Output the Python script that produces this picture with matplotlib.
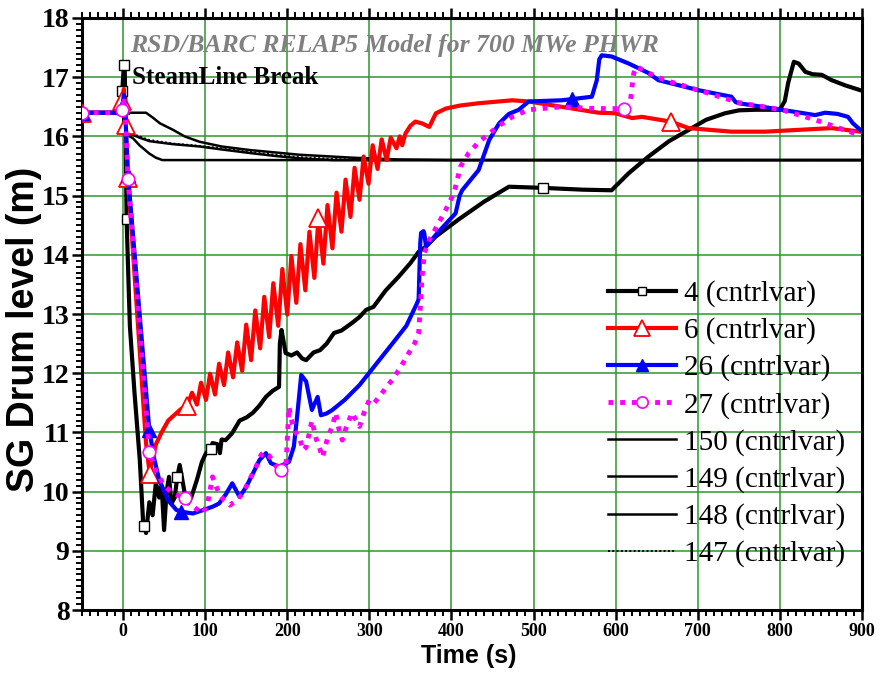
import numpy as np
import matplotlib
matplotlib.use("Agg")
import matplotlib.pyplot as plt
from matplotlib.ticker import MultipleLocator

# ---- data: SG drum level (m) vs time (s) ----
t4 = [-50, -2, -1, 1, 2, 3, 4.3, 8.3, 14, 20.4, 24.5, 26, 28, 32, 36, 40, 44, 47, 50, 53, 56, 59,
      63, 66, 69, 75, 79, 83, 90, 96, 101, 107, 109, 115, 118, 120, 125, 133, 142, 150, 158, 166,
      174, 182, 190, 191, 193, 196, 198, 205, 212, 218, 223, 232, 240, 248, 257, 266, 279, 288,
      296, 305, 320, 335, 350, 360, 369, 381, 409, 440, 470, 512, 560, 595, 616, 640, 665, 689,
      710, 733, 750, 770, 800, 806, 810, 817, 823, 831, 840, 851, 863, 880, 898]
v4 = [16.4, 16.4, 16.76, 17.2, 17.15, 16.4, 14.6, 12.8, 11.66, 10.53, 9.47, 9.42, 9.3, 9.82, 9.6,
      10.15, 9.9, 10.1, 9.35, 10.0, 10.25, 9.8, 9.9, 10.25, 10.45, 9.98, 9.8, 9.9, 10.2, 10.5,
      10.65, 10.72, 10.82, 10.8, 10.65, 10.88, 10.87, 10.99, 11.2, 11.25, 11.33, 11.45, 11.6,
      11.7, 11.77, 12.5, 12.73, 12.5, 12.34, 12.3, 12.35, 12.25, 12.22, 12.35, 12.39, 12.5, 12.68,
      12.72, 12.85, 12.95, 13.07, 13.12, 13.4, 13.62, 13.86, 14.05, 14.14, 14.31, 14.6, 14.9,
      15.15, 15.13, 15.1, 15.09, 15.38, 15.66, 15.92, 16.11, 16.28, 16.39, 16.44, 16.45, 16.45,
      16.6, 16.9, 17.26, 17.23, 17.09, 17.05, 17.04, 16.95, 16.86, 16.78]

t6 = [-50, -3, -1, 1, 2, 3, 6, 28, 32.5, 36, 40, 47, 55, 63, 71, 78,
      84, 90, 95, 101, 106, 112, 117, 123, 128, 134, 139, 145, 150, 156, 161, 167, 172, 178,
      183, 189, 194, 200, 205, 211, 216, 222, 227, 233, 238, 244, 249, 255, 260, 266, 271, 277,
      282, 288, 293, 299, 304, 310, 315, 321, 326,
      333, 337, 340, 344, 350, 356, 364, 373, 381, 393, 410, 433, 474, 494, 534, 579, 600, 620,
      632, 667, 689, 741, 782, 822, 863, 898]
v6 = [16.4, 16.4, 16.6, 16.8, 16.5, 16.2, 15.3, 10.82, 10.3, 10.55, 10.8, 11.0, 11.2, 11.3, 11.4, 11.45,
      11.67, 11.47, 11.84, 11.55, 11.99, 11.64, 12.16, 11.80, 12.35, 11.93, 12.52, 12.04, 12.82,
      12.22, 13.06, 12.42, 13.29, 12.61, 13.52, 12.80, 13.76, 12.99, 13.98, 13.19, 14.18, 13.40,
      14.39, 13.61, 14.62, 13.85, 14.84, 14.11, 15.05, 14.39, 15.27, 14.64, 15.47, 14.93, 15.66,
      15.20, 15.85, 15.45, 15.95, 15.60, 15.98,
      15.80, 16.0, 15.85, 16.05, 16.18, 16.25, 16.22, 16.16, 16.39, 16.47, 16.52, 16.56, 16.61,
      16.59, 16.5, 16.4, 16.39, 16.31, 16.33, 16.25, 16.14, 16.08, 16.08, 16.11, 16.14, 16.08]

t26 = [-50, -3, -1, 1, 3, 6, 32, 38, 44, 55, 65, 71, 85, 100, 110, 117, 125, 133, 142, 150, 158,
       166, 174, 180, 190, 202, 208, 212, 217, 223, 230, 237, 241, 248, 255, 270, 288, 312, 328,
       345, 358, 360, 362, 363, 366, 367, 369, 383, 395, 405, 410, 413, 433, 446, 458, 470, 482,
       494, 534, 547, 571, 577, 580, 583, 595, 616, 640, 652, 701, 741, 746, 750, 802, 843, 855,
       870, 883, 889, 898]
v26 = [16.4, 16.4, 16.5, 16.7, 16.3, 15.35, 11.04, 10.55, 10.2, 9.85, 9.69, 9.66, 9.63, 9.7, 9.75,
       9.8, 9.95, 10.14, 9.91, 10.08, 10.3, 10.53, 10.65, 10.48, 10.42, 10.5, 10.76, 11.27, 11.97,
       11.86, 11.38, 11.6, 11.29, 11.32, 11.38, 11.55, 11.8, 12.22, 12.5, 12.8, 13.18, 13.25, 14.2,
       14.37, 14.4, 14.35, 14.14, 14.37, 14.55, 14.7, 15.0, 15.09, 15.43, 15.94, 16.22, 16.38,
       16.45, 16.59, 16.61, 16.63, 16.67, 16.95, 17.3, 17.37, 17.35, 17.23, 17.07, 16.95, 16.78,
       16.67, 16.58, 16.56, 16.45, 16.36, 16.4, 16.38, 16.33, 16.22, 16.11]

t27 = [-50, -3, -1, 1, 3, 6, 32, 40, 50, 60, 75, 85, 97, 103, 109, 113, 117, 123, 130, 138, 146,
       154, 162, 168, 172, 177, 182, 187, 192, 198, 202, 206, 210, 215, 219, 223, 227, 230, 235,
       239, 243, 247, 251, 255, 259, 263, 267, 271, 275, 279, 284, 288, 294, 300, 306, 312, 320,
       328, 338, 348, 355, 360, 362, 364, 367, 373, 383, 393, 403, 411, 421, 433, 446, 460, 474,
       494, 534, 575, 610, 618, 620, 622, 626, 633, 640, 660, 701, 741, 746, 802, 843, 870, 898]
v27 = [16.4, 16.4, 16.45, 16.6, 16.35, 15.28, 10.67, 10.35, 10.1, 9.98, 9.89, 9.75, 9.63, 9.8,
       10.25, 10.1, 9.97, 9.85, 9.77, 9.85, 9.97, 10.2, 10.42, 10.62, 10.67, 10.62, 10.53, 10.42,
       10.36, 10.31, 11.43, 11.16, 11.0, 10.92, 10.7, 10.75, 11.0, 11.2, 10.9, 10.75, 10.58, 10.8,
       10.98, 11.1, 11.33, 11.05, 10.87, 11.05, 11.2, 11.33, 11.2, 11.1, 11.35, 11.55, 11.5, 11.6,
       11.75, 11.89, 12.1, 12.34, 12.5, 12.68, 13.1, 13.6, 14.03, 14.25, 14.5, 14.76, 15.04, 15.49,
       15.72, 15.9, 16.05, 16.2, 16.33, 16.45, 16.5, 16.47, 16.47, 16.61, 16.85, 17.07, 17.18,
       17.12, 17.07, 16.95, 16.78, 16.61, 16.58, 16.45, 16.28, 16.15, 16.02]

t150 = [-50, 28, 36, 45, 61, 75, 93, 120, 154, 215, 280, 336, 400, 900]
v150 = [16.4, 16.4, 16.32, 16.22, 16.11, 16.0, 15.91, 15.83, 15.77, 15.69, 15.64, 15.61, 15.6, 15.6]

t149 = [-50, 0, 1, 8, 20, 32, 60, 93, 120, 154, 185, 215, 255, 900]
v149 = [16.4, 16.4, 16.08, 16.05, 15.98, 15.92, 15.87, 15.83, 15.78, 15.72, 15.67, 15.63, 15.6, 15.6]

t148 = [-50, 0, 1, 8, 12, 20, 32, 40, 48, 900]
v148 = [16.4, 16.4, 16.06, 16.0, 15.97, 15.85, 15.71, 15.64, 15.6, 15.6]

t147 = [-50, 0, 1, 8, 20, 32, 60, 93, 120, 154, 185, 215, 255, 300, 900]
v147 = [16.4, 16.4, 16.08, 16.06, 16.0, 15.94, 15.88, 15.84, 15.8, 15.74, 15.69, 15.65, 15.62, 15.6, 15.6]

labels = ["4 (cntrlvar)", "6 (cntrlvar)", "26 (cntrlvar)", "27 (cntrlvar)",
          "150 (cntrlvar)", "149 (cntrlvar)", "148 (cntrlvar)", "147 (cntrlvar)"]

# times at which symbols are placed along each curve
mark4 = [-1, 1, 4.3, 26, 66, 107, 512]
mark6 = [-50, -1, 3, 6, 32.5, 78, 238, 667]
mark26 = [-50, -1, 6, 32, 71, 547]
mark27 = [-50, -1, 6, 32, 75, 192, 610]


def idx(times, marks):
    arr = np.asarray(times, dtype=float)
    return sorted({int(np.argmin(np.abs(arr - m))) for m in marks})


serif = ["Liberation Serif", "DejaVu Serif"]
sans = ["Liberation Sans", "DejaVu Sans"]

fig = plt.figure(figsize=(8.8, 6.73), dpi=100)
ax = fig.add_axes([82 / 880, 63 / 673, 780 / 880, 592 / 673])

grid_c = "#2f962f"
ax.set_xlim(-50, 900)
ax.set_ylim(8, 18)
ax.xaxis.set_major_locator(MultipleLocator(100))
ax.xaxis.set_minor_locator(MultipleLocator(10))
ax.yaxis.set_major_locator(MultipleLocator(1))
ax.yaxis.set_minor_locator(MultipleLocator(0.1))
ax.grid(True, which="major", color=grid_c, linewidth=1.1, zorder=0)
ax.set_axisbelow(True)

h150, = ax.plot(t150, v150, color="black", lw=1.8, label=labels[4], zorder=2)
h149, = ax.plot(t149, v149, color="black", lw=1.8, label=labels[5], zorder=2)
h148, = ax.plot(t148, v148, color="black", lw=1.8, label=labels[6], zorder=2)
h147, = ax.plot(t147, v147, color="black", lw=1.4, ls=(0, (1, 1.2)), label=labels[7], zorder=2)

h4, = ax.plot(t4, v4, color="black", lw=3, marker="s", ms=7, mfc="white", mec="black", mew=1,
              markevery=idx(t4, mark4), label=labels[0], zorder=3)
h6, = ax.plot(t6, v6, color="#ff0000", lw=3, marker="^", ms=13, mfc="white", mec="#ff0000",
              mew=1.3, markevery=idx(t6, mark6), label=labels[1], zorder=4)
h26, = ax.plot(t26, v26, color="#0000ff", lw=3, marker="^", ms=10, mfc="#0000ff", mec="#0000ff",
               markevery=idx(t26, mark26), label=labels[2], zorder=5)
h27, = ax.plot(t27, v27, color="#ff00ff", lw=3.5, ls=(0, (1, 1.4)), marker="o", ms=9, mfc="white",
               mec="#ff00ff", mew=1.2, markevery=idx(t27, mark27), label=labels[3], zorder=6)

# axes frame and ticks
for s in ax.spines.values():
    s.set_linewidth(2.2)
ax.tick_params(axis="both", which="major", direction="out", length=7, width=1.8)
ax.tick_params(axis="both", which="minor", direction="out", length=4, width=1.4)
ax.tick_params(axis="x", which="both", top=True, labeltop=False)
ax.tick_params(axis="y", which="major", labelsize=20, pad=2)
ax.tick_params(axis="x", which="major", labelsize=13, pad=2)
for lab in ax.get_yticklabels() + ax.get_xticklabels():
    lab.set_family(serif)
    lab.set_fontweight("bold")

fig.text(24 / 880, 1 - 329 / 673, "SG Drum level (m)", rotation=90, ha="center", va="center",
         fontsize=27, fontweight="bold", family=sans)
fig.text(469 / 880, 1 - 656 / 673, "Time (s)", ha="center", va="center",
         fontsize=18, fontweight="bold", family=sans)

ax.text(9, 17.54, "RSD/BARC RELAP5 Model for 700 MWe PHWR",
        ha="left", va="center", fontsize=18.5, fontweight="bold", fontstyle="italic",
        color="#808080", family=serif, zorder=7)
ax.text(11.5, 17.0, "SteamLine Break", ha="left", va="center", fontsize=18,
        fontweight="bold", color="black", family=serif, zorder=7)

ax.legend(handles=[h4, h6, h26, h27, h150, h149, h148, h147],
          loc="upper left", bbox_to_anchor=(0.674, 0.557), frameon=False,
          prop={"family": serif, "size": 21}, handlelength=2.35, handletextpad=0.25,
          labelspacing=0.35, borderpad=0, borderaxespad=0, numpoints=1, markerscale=0.9)

fig.savefig("out.png", dpi=100)
